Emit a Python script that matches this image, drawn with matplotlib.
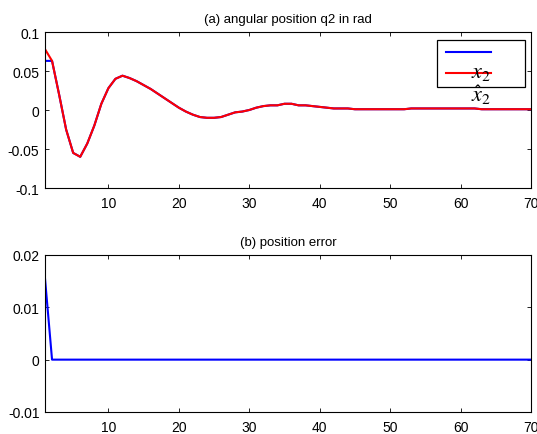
import numpy as np
from matplotlib import pyplot as plt
from matplotlib.patches import Rectangle

plt.rcParams['font.family'] = ['Liberation Sans', 'DejaVu Sans']
plt.rcParams['mathtext.fontset'] = 'stix'

# sample index
k = list(range(1, 71))

# estimated position (red)
x2_hat = [0.078, 0.063, 0.020, -0.025, -0.055, -0.060, -0.043, -0.020, 0.008, 0.028,
          0.040, 0.044, 0.041, 0.037, 0.032, 0.027, 0.021, 0.015, 0.009, 0.003,
          -0.002, -0.006, -0.009, -0.010, -0.010, -0.009, -0.006, -0.003, -0.002, 0.000,
          0.003, 0.005, 0.006, 0.006, 0.008, 0.008, 0.006, 0.006, 0.005, 0.004,
          0.003, 0.002, 0.002, 0.002, 0.001, 0.001, 0.001, 0.001, 0.001, 0.001,
          0.001, 0.001, 0.002, 0.002, 0.002, 0.002, 0.002, 0.002, 0.002, 0.002,
          0.002, 0.002, 0.001, 0.001, 0.001, 0.001, 0.001, 0.001, 0.001, 0.001]
# true position (blue): same except the first sample
x2 = [0.063] + x2_hat[1:]
# position error
err = [0.0155] + [0.0] * 69

xticks = [10, 20, 30, 40, 50, 60, 70]
yticks_a = [-0.1, -0.05, 0, 0.05, 0.1]
ylabels_a = ['-0.1', '-0.05', '0', '0.05', '0.1']
yticks_b = [-0.01, 0, 0.01, 0.02]
ylabels_b = ['-0.01', '0', '0.01', '0.02']

fig = plt.figure(figsize=(5.37, 4.35), dpi=100)
ax1 = fig.add_axes([0.0838, 0.5655, 0.905, 0.3586])
ax2 = fig.add_axes([0.0838, 0.0506, 0.905, 0.361])

for ax in (ax1, ax2):
    ax.set_xlim(1, 70)
    ax.set_xticks(xticks)
    ax.tick_params(direction='in', top=True, right=True, labelsize=10,
                   length=3, width=0.6)
    ax.tick_params(axis='x', pad=6)
    ax.tick_params(axis='y', pad=4)
    for s in ax.spines.values():
        s.set_linewidth(0.8)

ax1.plot(k, x2, color='blue', lw=1.5)
ax1.plot(k, x2_hat, color='red', lw=1.5)
ax1.set_ylim(-0.1, 0.1)
ax1.set_yticks(yticks_a)
ax1.set_yticklabels(ylabels_a)
ax1.set_title('(a) angular position q2 in rad', fontsize=9.5, pad=7.5)

# legend box (labels end up misplaced as in the original figure)
ax1.add_patch(Rectangle((0.806, 0.649), 0.182, 0.302, transform=ax1.transAxes,
                        facecolor='white', edgecolor='black', lw=0.9, zorder=5))
ax1.plot([0.825, 0.918], [0.872, 0.872], transform=ax1.transAxes, color='blue', lw=1.5, zorder=6)
ax1.plot([0.825, 0.918], [0.737, 0.737], transform=ax1.transAxes, color='red', lw=1.5, zorder=6)
ax1.text(0.897, 0.745, r'$x_2$', transform=ax1.transAxes, fontsize=16,
         ha='center', va='center', zorder=7)
ax1.text(0.897, 0.600, r'$\hat{x}_2$', transform=ax1.transAxes, fontsize=16,
         ha='center', va='center', zorder=7)

ax2.plot(k, err, color='blue', lw=1.5)
ax2.set_ylim(-0.01, 0.02)
ax2.set_yticks(yticks_b)
ax2.set_yticklabels(ylabels_b)
ax2.set_title('(b) position error', fontsize=9.5, pad=7.5)

fig.savefig('out.png', dpi=100)
